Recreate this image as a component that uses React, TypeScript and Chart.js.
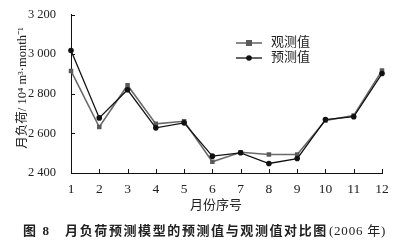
import React, { useEffect, useRef } from "react";
import { Chart, registerables } from "chart.js";

Chart.register(...registerables);

const months = ["1", "2", "3", "4", "5", "6", "7", "8", "9", "10", "11", "12"];
const observed = [2915, 2632, 2843, 2648, 2661, 2457, 2505, 2493, 2493, 2665, 2690, 2917];
const predicted = [3018, 2678, 2820, 2628, 2653, 2485, 2502, 2448, 2473, 2670, 2684, 2902];
const yTicks = [2400, 2600, 2800, 3000, 3200];
const seriesNames = ["观测值", "预测值"];
const yTitle = "月负荷/ 10⁴ m³·month⁻¹";
const xTitle = "月份序号";
const captionMain = "图 8   月负荷预测模型的预测值与观测值对比图";
const captionYear = "(2006 年)";

const SERIF = "'Liberation Serif', 'DejaVu Serif', 'Noto Sans CJK SC', serif";
const CJK = "'Liberation Serif', 'Noto Sans CJK SC', serif";

const fmt = (v: number) => {
  const s = String(v);
  return s.length > 3 ? s.slice(0, s.length - 3) + " " + s.slice(s.length - 3) : s;
};

const decorPlugin = {
  id: "decor",
  afterDraw(chart: any) {
    const ctx = chart.ctx as CanvasRenderingContext2D;
    const area = chart.chartArea;
    const xs = chart.scales.x;
    const ys = chart.scales.y;
    ctx.save();
    // inward ticks
    ctx.strokeStyle = "#111";
    ctx.lineWidth = 1;
    ctx.beginPath();
    months.forEach((_, i) => {
      const x = Math.round(xs.getPixelForValue(i)) + 0.5;
      ctx.moveTo(x, area.bottom);
      ctx.lineTo(x, area.bottom - 4);
    });
    yTicks.forEach((v) => {
      const y = Math.round(ys.getPixelForValue(v)) + 0.5;
      ctx.moveTo(area.left, y);
      ctx.lineTo(area.left + 4, y);
    });
    ctx.stroke();

    // y title
    ctx.fillStyle = "#222";
    ctx.font = "12.5px " + CJK;
    ctx.textAlign = "center";
    ctx.textBaseline = "middle";
    ctx.save();
    ctx.translate(23, 88);
    ctx.rotate(-Math.PI / 2);
    ctx.fillText(yTitle, 0, 0);
    ctx.restore();

    // x title
    ctx.font = "13px " + CJK;
    ctx.fillText(xTitle, 216, 206);

    // caption
    ctx.textAlign = "left";
    ctx.font = "bold 13px " + CJK;
    (ctx as any).letterSpacing = "1.6px";
    ctx.fillText(captionMain, 23, 232);
    const w = ctx.measureText(captionMain).width;
    ctx.font = "13px " + CJK;
    (ctx as any).letterSpacing = "0.8px";
    ctx.fillText(captionYear, 23 + w + 1, 232);
    (ctx as any).letterSpacing = "0px";

    // legend
    const legendX = 236;
    const legendRows = [43, 58];
    chart.data.datasets.forEach((ds: any, i: number) => {
      const y = legendRows[i];
      ctx.strokeStyle = ds.borderColor;
      ctx.lineWidth = ds.borderWidth;
      ctx.beginPath();
      ctx.moveTo(legendX, y);
      ctx.lineTo(legendX + 26, y);
      ctx.stroke();
      ctx.fillStyle = ds.pointBackgroundColor;
      if (ds.pointStyle === "rect") {
        ctx.fillRect(legendX + 13 - 3, y - 3, 6, 6);
      } else {
        ctx.beginPath();
        ctx.arc(legendX + 13, y, 2.8, 0, Math.PI * 2);
        ctx.fill();
      }
      ctx.fillStyle = "#222";
      ctx.font = "13px " + CJK;
      ctx.textAlign = "left";
      ctx.fillText(ds.label, legendX + 35, y);
    });
    ctx.restore();
  },
};

export default function App() {
  const ref = useRef<HTMLCanvasElement>(null);
  useEffect(() => {
    document.body.style.margin = "0";
    const chart = new Chart(ref.current as HTMLCanvasElement, {
      type: "line",
      data: {
        labels: months,
        datasets: [
          {
            label: seriesNames[0],
            data: observed,
            borderColor: "#6a6a6a",
            borderWidth: 1.6,
            pointStyle: "rect",
            pointRadius: 3.2,
            pointBackgroundColor: "#5a5a5a",
            pointBorderColor: "#5a5a5a",
            pointBorderWidth: 0,
            order: 2,
          },
          {
            label: seriesNames[1],
            data: predicted,
            borderColor: "#111",
            borderWidth: 1.3,
            pointStyle: "circle",
            pointRadius: 2.8,
            pointBackgroundColor: "#111",
            pointBorderColor: "#111",
            pointBorderWidth: 0,
            order: 1,
          },
        ],
      },
      options: {
        responsive: false,
        animation: false,
        devicePixelRatio: 1,
        layout: { padding: { top: 14, right: 18, left: 0, bottom: 0 } },
        plugins: { legend: { display: false }, tooltip: { enabled: false } },
        scales: {
          x: {
            offset: false,
            grid: { display: false },
            border: { display: true, color: "#111", width: 1 },
            ticks: {
              color: "#222",
              padding: 0,
              font: { family: SERIF, size: 13.5 },
              maxRotation: 0,
              autoSkip: false,
            },
            afterFit: (s: any) => {
              s.height = 73;
            },
          },
          y: {
            min: 2400,
            max: 3200,
            grid: { display: false },
            border: { display: true, color: "#111", width: 1 },
            afterBuildTicks: (s: any) => {
              s.ticks = yTicks.map((v) => ({ value: v }));
            },
            ticks: {
              color: "#222",
              padding: 7,
              font: { family: SERIF, size: 12.5 },
              callback: (v: any) => fmt(Number(v)),
            },
            afterFit: (s: any) => {
              s.width = 71;
            },
          },
        },
      },
      plugins: [decorPlugin],
    });
    return () => chart.destroy();
  }, []);
  return (
    <div style={{ position: "absolute", left: 0, top: 0, width: 400, height: 246, background: "#fff" }}>
      <canvas ref={ref} width={400} height={246} />
    </div>
  );
}
